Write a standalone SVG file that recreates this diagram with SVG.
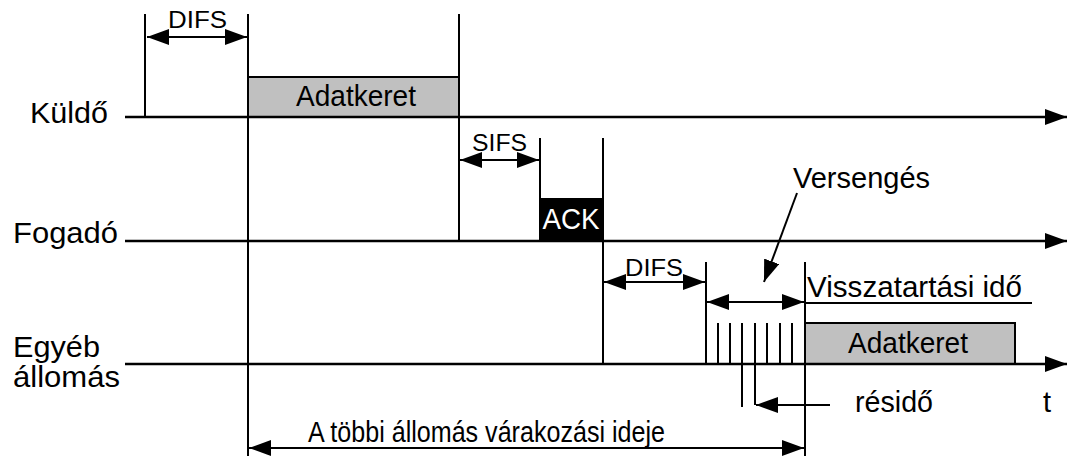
<svg xmlns="http://www.w3.org/2000/svg" width="1067" height="465" viewBox="0 0 1067 465">
<style>
text{font-family:"Liberation Sans",Arial,sans-serif;fill:#000}
.ln{stroke:#000;stroke-width:2;fill:none}
.ax{stroke:#000;stroke-width:2.5;fill:none}
.box{fill:#c0c0c0;stroke:#000;stroke-width:2}
.lbl{font-size:29px}
.sm{font-size:24px}
</style>
<defs>
<marker id="ah" viewBox="0 0 22 16" refX="22" refY="8" markerWidth="22" markerHeight="16" markerUnits="userSpaceOnUse" orient="auto-start-reverse">
<path d="M0,0 L22,8 L0,16 Z" fill="#000"/>
</marker>
</defs>
<g id="labels">
<text x="30" y="123" class="lbl" textLength="78" lengthAdjust="spacingAndGlyphs">Küldő</text>
<text x="13" y="243" class="lbl" textLength="105" lengthAdjust="spacingAndGlyphs">Fogadó</text>
<text x="13" y="357" class="lbl" textLength="87" lengthAdjust="spacingAndGlyphs">Egyéb</text>
<text x="13" y="387" class="lbl" textLength="107" lengthAdjust="spacingAndGlyphs">állomás</text>
</g>
<g id="sender-frame">
<rect x="248" y="77" width="211" height="40" class="box"/>
<text x="356" y="106" class="lbl" text-anchor="middle" textLength="120" lengthAdjust="spacingAndGlyphs">Adatkeret</text>
</g>
<g id="ack">
<rect x="540" y="199" width="63" height="42" fill="#000" stroke="#000" stroke-width="2"/>
<text x="571" y="229" class="lbl" text-anchor="middle" style="fill:#fff" textLength="57" lengthAdjust="spacingAndGlyphs">ACK</text>
</g>
<g id="other-frame">
<rect x="805" y="323" width="210" height="41" class="box"/>
<text x="908" y="353" class="lbl" text-anchor="middle" textLength="120" lengthAdjust="spacingAndGlyphs">Adatkeret</text>
</g>
<g id="connectors">
<line x1="125" y1="117" x2="1067" y2="117" class="ax" marker-end="url(#ah)"/>
<line x1="125" y1="241" x2="1067" y2="241" class="ax" marker-end="url(#ah)"/>
<line x1="125" y1="364" x2="1067" y2="364" class="ax" marker-end="url(#ah)"/>
<line x1="145" y1="14" x2="145" y2="117" class="ln"/>
<line x1="248" y1="14" x2="248" y2="456" class="ln"/>
<line x1="459" y1="14" x2="459" y2="241" class="ln"/>
<line x1="540" y1="138" x2="540" y2="241" class="ln"/>
<line x1="603" y1="138" x2="603" y2="364" class="ln"/>
<line x1="706" y1="262" x2="706" y2="364" class="ln"/>
<line x1="805" y1="262" x2="805" y2="456" class="ln"/>
<line x1="718" y1="323" x2="718" y2="364" class="ln"/>
<line x1="730" y1="323" x2="730" y2="364" class="ln"/>
<line x1="742" y1="323" x2="742" y2="407" class="ln"/>
<line x1="755" y1="323" x2="755" y2="405" class="ln"/>
<line x1="767" y1="323" x2="767" y2="364" class="ln"/>
<line x1="780" y1="323" x2="780" y2="364" class="ln"/>
<line x1="792" y1="323" x2="792" y2="364" class="ln"/>
<line x1="147" y1="37" x2="247" y2="37" class="ln" marker-start="url(#ah)" marker-end="url(#ah)"/>
<line x1="460" y1="160" x2="539" y2="160" class="ln" marker-start="url(#ah)" marker-end="url(#ah)"/>
<line x1="604" y1="282" x2="705" y2="282" class="ln" marker-start="url(#ah)" marker-end="url(#ah)"/>
<line x1="707" y1="302" x2="804" y2="302" class="ln" marker-start="url(#ah)" marker-end="url(#ah)"/>
<line x1="805" y1="303" x2="1032" y2="303" class="ln"/>
<line x1="249" y1="448" x2="804" y2="448" class="ln" marker-start="url(#ah)" marker-end="url(#ah)"/>
<line x1="830" y1="405" x2="756" y2="405" class="ln" marker-end="url(#ah)"/>
<line x1="797" y1="193" x2="764" y2="282" class="ln" marker-end="url(#ah)"/>
</g>
<g id="texts">
<text x="168" y="28" class="sm" textLength="59" lengthAdjust="spacingAndGlyphs">DIFS</text>
<text x="472" y="151" class="sm" textLength="55" lengthAdjust="spacingAndGlyphs">SIFS</text>
<text x="625" y="276" class="sm" textLength="58" lengthAdjust="spacingAndGlyphs">DIFS</text>
<text x="793" y="188" class="lbl" textLength="137" lengthAdjust="spacingAndGlyphs">Versengés</text>
<text x="807" y="297" class="lbl" textLength="215" lengthAdjust="spacingAndGlyphs">Visszatartási idő</text>
<text x="855" y="412" class="lbl" textLength="78" lengthAdjust="spacingAndGlyphs">résidő</text>
<text x="1043" y="412" class="lbl">t</text>
<text x="308" y="442" class="lbl" textLength="357" lengthAdjust="spacingAndGlyphs">A többi állomás várakozási ideje</text>
</g>
</svg>
